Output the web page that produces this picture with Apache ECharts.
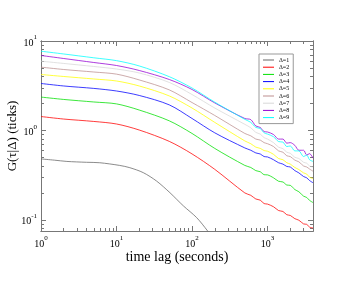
<!DOCTYPE html>
<html><head><meta charset="utf-8">
<script src="https://cdn.jsdelivr.net/npm/echarts@6/dist/echarts.min.js"></script>
<style>html,body{margin:0;padding:0;background:#fff}#c{width:363px;height:281px}</style>
</head><body><div id="c"></div>
<script>
const seriesNames = ['Δ=1','Δ=2','Δ=3','Δ=4','Δ=5','Δ=6','Δ=7','Δ=8','Δ=9'];
const colors = ['#666666','#ff0000','#00e000','#0000ff','#ffff00','#bc8f8f','#d8d8d8','#9400d3','#00ffff'];
const tBlack = [1,1.5,2.2,4,6,11,15,22.6,34,51,77,115,161,180];
const d1 = [0.48,0.465,0.45,0.44,0.435,0.406,0.383,0.337,0.271,0.201,0.143,0.106,0.075,0.065];
const tLag = [1,2,5,10,20,50,100,200,500,600,700,800,900,1000,1200,1400,1600,1800,2000,2300,2600,3000,3300,3600,4000];
const d2 = [1.43,1.34,1.26,1.18,1.01,0.754,0.546,0.367,0.20,0.188,0.171,0.166,0.152,0.150,0.140,0.127,0.124,0.114,0.112,0.103,0.099,0.090,0.089,0.083,0.081];
const d3 = [2.36,2.22,2.08,1.98,1.69,1.28,0.925,0.629,0.406,0.385,0.355,0.345,0.32,0.318,0.295,0.27,0.265,0.245,0.243,0.218,0.206,0.184,0.178,0.165,0.156];
const d4 = [3.35,3.14,2.95,2.76,2.46,1.93,1.36,0.94,0.637,0.60,0.56,0.545,0.51,0.505,0.47,0.435,0.42,0.395,0.39,0.355,0.335,0.305,0.295,0.275,0.26];
const d5 = [4.22,4.01,3.76,3.57,3.14,2.43,1.78,1.23,0.763,0.71,0.65,0.63,0.595,0.585,0.54,0.485,0.47,0.435,0.42,0.385,0.365,0.335,0.325,0.30,0.29];
const d6 = [5.10,4.80,4.50,4.26,3.67,2.84,2.05,1.47,0.925,0.87,0.80,0.78,0.73,0.71,0.66,0.59,0.57,0.52,0.51,0.465,0.445,0.40,0.39,0.37,0.35];
const d7 = [5.95,5.61,5.19,4.86,4.39,3.44,2.52,1.78,1.17,1.07,0.95,0.91,0.83,0.80,0.73,0.65,0.625,0.57,0.555,0.50,0.485,0.44,0.43,0.40,0.39];
const d8 = [6.89,6.37,5.75,5.32,4.68,3.71,2.87,2.03,1.36,1.32,1.12,1.08,0.97,0.96,0.90,0.80,0.80,0.72,0.73,0.68,0.60,0.60,0.53,0.55,0.49];
const d9 = [7.69,7.16,6.49,6.03,5.26,3.99,2.98,2.07,1.33,1.23,1.08,1.05,0.94,0.91,0.85,0.75,0.74,0.66,0.67,0.59,0.59,0.51,0.53,0.47,0.45];
const xMajor = [1,10,100,1000];
const xMinor = [2,3,4,5,6,7,8,9,20,30,40,50,60,70,80,90,200,300,400,500,600,700,800,900,2000,3000,4000];
const yMajor = [0.1,1,10];
const yMinor = [0.08,0.09,0.2,0.3,0.4,0.5,0.6,0.7,0.8,0.9,2,3,4,5,6,7,8,9];

const serif = 'Liberation Serif';
const lineCol = '#777';
function supFmt(v){ const e = Math.round(Math.log10(v)); return '{b|10}{s|' + e + '}'; }
const rich = {
  b:{fontFamily:serif,fontSize:10,color:'#000',lineHeight:14,verticalAlign:'bottom'},
  s:{fontFamily:serif,fontSize:7,color:'#000',lineHeight:14,verticalAlign:'top'}
};
function mkX(pos, ticks, major, labels){
  return {type:'log',logBase:10,min:1,max:4000,position:pos,
    axisLine:{show:true,onZero:false,lineStyle:{color:lineCol,width:1}},
    axisTick:{show:true,inside:true,length:major?5:3,customValues:ticks,lineStyle:{color:lineCol}},
    axisLabel:labels?{show:true,customValues:xMajor,formatter:supFmt,rich:rich,margin:4}:{show:false},
    splitLine:{show:false},minorTick:{show:false}};
}
function mkY(pos, ticks, major, labels){
  return {type:'log',logBase:10,min:0.075,max:10,position:pos,
    axisLine:{show:true,onZero:false,lineStyle:{color:lineCol,width:1}},
    axisTick:{show:true,inside:true,length:major?5:3,customValues:ticks,lineStyle:{color:lineCol}},
    axisLabel:labels?{show:true,customValues:yMajor,formatter:supFmt,rich:rich,margin:4}:{show:false},
    splitLine:{show:false},minorTick:{show:false}};
}
const xa = [mkX('bottom',xMajor,true,true),mkX('bottom',xMinor,false,false),mkX('top',xMajor,true,false),mkX('top',xMinor,false,false)];
xa[0].name = 'time lag (seconds)'; xa[0].nameLocation='middle'; xa[0].nameGap=19; xa[0].nameMoveOverlap=false;
xa[0].nameTextStyle = {fontFamily:serif,fontSize:14,color:'#000'};
const ya = [mkY('left',yMajor,true,true),mkY('left',yMinor,false,false),mkY('right',yMajor,true,false),mkY('right',yMinor,false,false)];
ya[0].name = 'G(τ|Δ) (ticks)'; ya[0].nameLocation='middle'; ya[0].nameGap=22; ya[0].nameRotate=90; ya[0].nameMoveOverlap=false;
ya[0].nameTextStyle = {fontFamily:serif,fontSize:13,color:'#000'};

const allData = [d1,d2,d3,d4,d5,d6,d7,d8,d9];
const series = allData.map((d,i)=>{
  const ts = i===0 ? tBlack : tLag;
  return {name:seriesNames[i],type:'line',xAxisIndex:0,yAxisIndex:0,showSymbol:false,symbol:'none',
    smooth:0.3,clip:true,data:d.map((v,k)=>[ts[k],v]),
    lineStyle:{color:colors[i],width:0.9,opacity:0.85},itemStyle:{color:colors[i]},animation:false};
});

const chart = echarts.init(document.getElementById('c'),null,{renderer:'canvas'});
chart.setOption({
  backgroundColor:'#fff',animation:false,
  grid:{left:41,right:50,top:41,bottom:50,containLabel:false,outerBoundsMode:'none'},
  legend:{orient:'vertical',left:259,top:54,padding:[3,4,3,4],itemGap:1.2,itemWidth:11,itemHeight:1,
    icon:'rect',borderColor:'#999',borderWidth:1,backgroundColor:'#fff',
    textStyle:{fontFamily:serif,fontSize:6,color:'#000',lineHeight:6},data:seriesNames},
  xAxis:xa,yAxis:ya,series:series
});
</script></body></html>
